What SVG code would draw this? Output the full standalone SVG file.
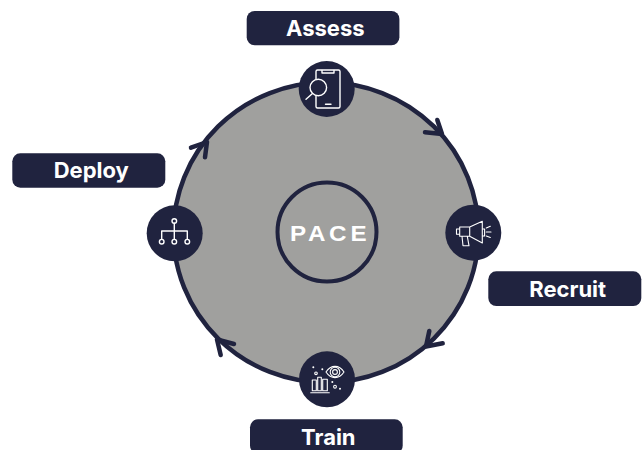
<svg xmlns="http://www.w3.org/2000/svg" width="643" height="450" viewBox="0 0 643 450">
<style>
.navy{fill:#20233f}
.lbl{font-family:"Inter","Liberation Sans",sans-serif;font-weight:700;font-size:22px;fill:#fff;text-anchor:middle}
.arc{fill:none;stroke:#20233f;stroke-width:4.500}
.chev{fill:none;stroke:#20233f;stroke-width:4.500;stroke-linecap:round;stroke-linejoin:round}
.ic{fill:none;stroke:#fff;stroke-width:1.400;stroke-linejoin:round;stroke-linecap:round}
.th{stroke-width:1.100}
.dot{fill:#fff}
</style>
<rect width="643" height="450" fill="#fff"/>
<ellipse id="disc" cx="326" cy="232.500" rx="152.500" ry="150" fill="#a0a09e"/>
<g id="connectors">
<path class="arc" d="M326 82.500A152.500 150 0 0 1 478.500 232.500"/>
<path class="arc" d="M478.500 232.500A152.500 150 0 0 1 326 382.500"/>
<path class="arc" d="M326 382.500A152.500 150 0 0 1 173.500 232.500"/>
<path class="arc" d="M173.500 232.500A152.500 150 0 0 1 326 82.500"/>
<polyline class="chev" points="437.300,120 442,134 425,132.300"/>
<polyline class="chev" points="429.300,331 426,346.500 442.700,343.300"/>
<polyline class="chev" points="234,344 217,339.500 220.700,355"/>
<polyline class="chev" points="191,147.700 207,142 205,157.300"/>
</g>
<g id="center">
<circle cx="327" cy="232" r="49.500" fill="none" stroke="#20233f" stroke-width="4"/>
<text transform="translate(290 241) scale(1.100 1)" x="0 16.400 35.500 55" y="0" font-family="'Liberation Sans',sans-serif" font-weight="700" font-size="22" fill="#fff">PACE</text>
</g>
<g id="assess">
<circle class="navy" cx="326.700" cy="89" r="28"/>
<rect class="ic" x="316" y="70" width="24" height="38" rx="1.500"/>
<path class="ic" d="M322 70.500V73H334V70.500M325.500 104.300H331"/>
<circle cx="318.300" cy="87.500" r="8.300" fill="#20233f" stroke="#fff" stroke-width="1.400"/>
<path class="ic" d="M312.500 93.500L306 99.200"/>
<rect class="navy" x="246.700" y="11" width="152.700" height="34.300" rx="8"/>
<text class="lbl" x="325.300" y="35.800">Assess</text>
</g>
<g id="recruit">
<circle class="navy" cx="473.300" cy="232.700" r="28"/>
<path class="ic th" d="M469.700 227L482.300 221.300V243L469.700 236.300ZM459.700 227H469.700V236.300H459.700ZM459.700 229H456.500V234.300H459.700M462 236.300L463 245.700H469L467.300 236.300M482.300 229H484.600V236H482.300M486.300 228L490.300 226.300M486.300 232H491M486.300 236L490.300 237.500"/>
<rect class="navy" x="488.300" y="271.300" width="153" height="34.700" rx="8"/>
<text class="lbl" x="567.700" y="297">Recruit</text>
</g>
<g id="train">
<circle class="navy" cx="327" cy="379.300" r="28"/>
<path class="ic th" d="M326 372C331 364.500 339 364.500 344 372C339 379.500 331 379.500 326 372Z"/>
<circle class="ic th" cx="335" cy="372" r="4.800"/>
<circle class="ic th" cx="335" cy="372" r="2.400"/>
<path class="ic th" d="M312.300 380H316.300V390.700H312.300ZM317.700 377.300H321.300V390.700H317.700ZM322.700 379.300H327.300V390.700H322.700ZM310.700 392.700H329.300"/>
<circle class="dot" cx="313.300" cy="367.300" r="1"/>
<circle class="ic th" cx="316" cy="373.300" r="1.300"/>
<circle class="dot" cx="322.300" cy="369.300" r="1"/>
<circle class="dot" cx="332.300" cy="382" r="1"/>
<circle class="ic th" cx="335" cy="386.700" r="1.400"/>
<circle class="dot" cx="340" cy="388.700" r="1"/>
<rect class="navy" x="250" y="419.300" width="152.700" height="34.300" rx="8"/>
<text class="lbl" x="328.300" y="445.300">Train</text>
</g>
<g id="deploy">
<circle class="navy" cx="174.700" cy="233.300" r="28"/>
<circle class="ic" cx="174.300" cy="221" r="2.300"/>
<path class="ic" d="M174.300 223.300V239.400M161.700 239.400V231H187.300V239.400"/>
<circle class="ic" cx="161.700" cy="241.700" r="2.300"/>
<circle class="ic" cx="174.300" cy="241.700" r="2.300"/>
<circle class="ic" cx="187.300" cy="241.700" r="2.300"/>
<rect class="navy" x="12.300" y="153.300" width="153" height="34.400" rx="8"/>
<text class="lbl" x="91.300" y="177.800">Deploy</text>
</g>
</svg>
